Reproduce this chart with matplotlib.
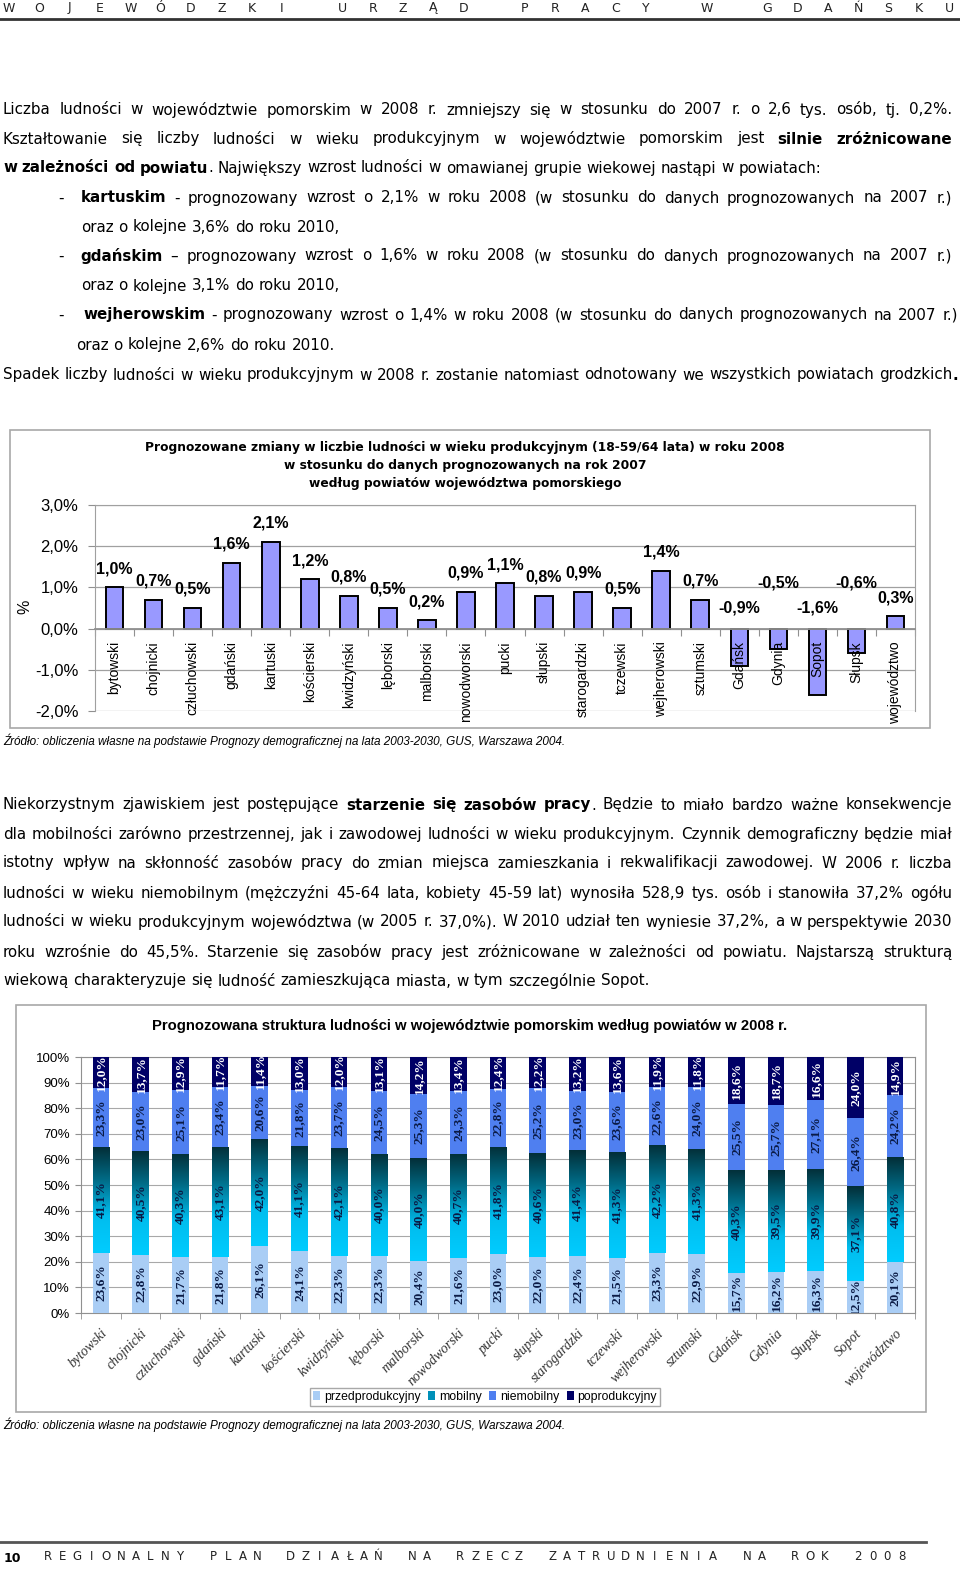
import numpy as np
import matplotlib
matplotlib.use('Agg')
import matplotlib.pyplot as plt
from matplotlib.patches import Rectangle, Patch
from matplotlib.colors import LinearSegmentedColormap
from matplotlib.ticker import FuncFormatter, MultipleLocator, FixedLocator

W, H = 960, 1569

# --- dane: wykres 1 (zmiany ludnosci w wieku produkcyjnym 2008/2007, %)
powiaty1 = ['bytowski', 'chojnicki', 'człuchowski', 'gdański', 'kartuski', 'kościerski',
            'kwidzyński', 'lęborski', 'malborski', 'nowodworski', 'pucki', 'słupski',
            'starogardzki', 'tczewski', 'wejherowski', 'sztumski', 'Gdańsk', 'Gdynia',
            'Sopot', 'Słupsk', 'województwo']
zmiana = [1.0, 0.7, 0.5, 1.6, 2.1, 1.2, 0.8, 0.5, 0.2, 0.9, 1.1, 0.8,
          0.9, 0.5, 1.4, 0.7, -0.9, -0.5, -1.6, -0.6, 0.3]

# --- dane: wykres 2 (struktura ludnosci 2008, %)
powiaty2 = ['bytowski', 'chojnicki', 'człuchowski', 'gdański', 'kartuski', 'kościerski',
            'kwidzyński', 'lęborski', 'malborski', 'nowodworski', 'pucki', 'słupski',
            'starogardzki', 'tczewski', 'wejherowski', 'sztumski', 'Gdańsk', 'Gdynia',
            'Słupsk', 'Sopot', 'województwo']
przedprod = [23.6, 22.8, 21.7, 21.8, 26.1, 24.1, 22.3, 22.3, 20.4, 21.6, 23.0, 22.0,
             22.4, 21.5, 23.3, 22.9, 15.7, 16.2, 16.3, 12.5, 20.1]
mobilny = [41.1, 40.5, 40.3, 43.1, 42.0, 41.1, 42.1, 40.0, 40.0, 40.7, 41.8, 40.6,
           41.4, 41.3, 42.2, 41.3, 40.3, 39.5, 39.9, 37.1, 40.8]
niemobilny = [23.3, 23.0, 25.1, 23.4, 20.6, 21.8, 23.7, 24.5, 25.3, 24.3, 22.8, 25.2,
              23.0, 23.6, 22.6, 24.0, 25.5, 25.7, 27.1, 26.4, 24.2]
poprod = [12.0, 13.7, 12.9, 11.7, 11.4, 13.0, 12.0, 13.1, 14.2, 13.4, 12.4, 12.2,
          13.2, 13.6, 11.9, 11.8, 18.6, 18.7, 16.6, 24.0, 14.9]
grupy = ['przedprodukcyjny', 'mobilny', 'niemobilny', 'poprodukcyjny']

zrodlo = 'Źródło: obliczenia własne na podstawie Prognozy demograficznej na lata 2003-2030, GUS, Warszawa 2004.'

BODY = 'DejaVu Sans'
NARROW = ['Liberation Sans Narrow', 'Liberation Sans', 'DejaVu Sans']
ARIAL = ['Liberation Sans', 'DejaVu Sans']
TIMES = ['Liberation Serif', 'DejaVu Serif']
FS = 10.9

fig = plt.figure(figsize=(W / 100, H / 100), dpi=100)
fig.patch.set_facecolor('white')
renderer = fig.canvas.get_renderer()


def fy(y):
    return 1 - y / H


def put_line(y, x0, x1, segs, size=FS, justify=True):
    # segs: lista (tekst, bold); slowa dzielone spacjami
    words = [[]]
    for txt, b in segs:
        parts = txt.split(' ')
        for k, p in enumerate(parts):
            if k > 0:
                words.append([])
            if p:
                words[-1].append((p, b))
    words = [w for w in words if w]
    while True:
        arts = []
        for w in words:
            grp = []
            for p, b in w:
                t = fig.text(0, fy(y), p, fontsize=size, family=BODY,
                             fontweight='bold' if b else 'normal', va='center', ha='left')
                grp.append((t, t.get_window_extent(renderer).width))
            arts.append(grp)
        widths = [sum(wd for _, wd in g) for g in arts]
        space = size * 0.32 * 100 / 72
        if justify and len(arts) > 1:
            gap = (x1 - x0 - sum(widths)) / (len(arts) - 1)
            if gap < space * 0.8 and size > 8:
                for g in arts:
                    for t, _ in g:
                        t.remove()
                size -= 0.2
                continue
        else:
            gap = space
        break
    x = x0
    for g in arts:
        for t, wd in g:
            t.set_x(x / W)
            x += wd
        x += gap


def spaced(y, x0, x1, text, size=9, weight='normal', space=1.6):
    units = [space if c == ' ' else 1.0 for c in text]
    step = (x1 - x0) / (sum(units) - 1)
    x = x0
    for c, u in zip(text, units):
        if c != ' ':
            fig.text(x / W, fy(y), c, fontsize=size, family=BODY, ha='center', va='center',
                     fontweight=weight, color='#222222')
        x += u * step


# --- naglowek i stopka
spaced(8, 9, 949, 'WOJEWÓDZKI URZĄD PRACY W GDAŃSKU', size=9, space=1.0)
fig.add_artist(plt.Line2D([0, 1], [fy(19), fy(19)], color='#333333', lw=2))
fig.add_artist(plt.Line2D([0, 926 / W], [fy(1542), fy(1542)], color='#555555', lw=2))
fig.text(4 / W, fy(1558), '10', fontsize=9, fontweight='bold', family=BODY, va='center')
spaced(1556, 48, 902, 'REGIONALNY PLAN DZIAŁAŃ NA RZECZ ZATRUDNIENIA NA ROK 2008', size=8.5, space=1.3)

# --- tekst 1
put_line(110, 3, 952, [('Liczba ludności w województwie pomorskim w 2008 r. zmniejszy się w stosunku do 2007 r. o 2,6 tys. osób, tj. 0,2%.', False)])
put_line(139, 3, 952, [('Kształtowanie się liczby ludności w wieku produkcyjnym w województwie pomorskim jest ', False),
                       ('silnie zróżnicowane', True)])
put_line(168, 3, 952, [('w zależności od powiatu', True),
                       ('. Największy wzrost ludności w omawianej grupie wiekowej nastąpi w powiatach:', False)], justify=False)
for y in (198, 256, 315):
    put_line(y, 58, 70, [('-', False)], justify=False)
put_line(198, 81, 952, [('kartuskim', True),
                        (' - prognozowany wzrost o 2,1% w roku 2008 (w stosunku do danych prognozowanych na 2007 r.)', False)])
put_line(227, 81, 952, [('oraz o kolejne 3,6% do roku 2010,', False)], justify=False)
put_line(256, 80, 952, [('gdańskim', True),
                        (' – prognozowany wzrost o 1,6% w roku 2008 (w stosunku do danych prognozowanych na 2007 r.)', False)])
put_line(286, 81, 952, [('oraz o kolejne 3,1% do roku 2010,', False)], justify=False)
put_line(315, 83, 958, [('wejherowskim', True),
                        (' - prognozowany wzrost o 1,4% w roku 2008 (w stosunku do danych prognozowanych na 2007 r.)', False)])
put_line(345, 76, 952, [('oraz o kolejne 2,6% do roku 2010.', False)], justify=False)
put_line(375, 3, 958, [('Spadek liczby ludności w wieku produkcyjnym w 2008 r. zostanie natomiast odnotowany we wszystkich powiatach grodzkich', False),
                       ('.', True)])

# --- tekst 2
put_line(805, 3, 952, [('Niekorzystnym zjawiskiem jest postępujące ', False), ('starzenie się zasobów pracy', True),
                       ('. Będzie to miało bardzo ważne konsekwencje', False)])
put_line(834, 3, 952, [('dla mobilności zarówno przestrzennej, jak i zawodowej ludności w wieku produkcyjnym. Czynnik demograficzny będzie miał', False)])
put_line(863, 3, 952, [('istotny wpływ na skłonność zasobów pracy do zmian miejsca zamieszkania i rekwalifikacji zawodowej. W 2006 r. liczba', False)])
put_line(893, 3, 952, [('ludności w wieku niemobilnym (mężczyźni 45-64 lata, kobiety 45-59 lat) wynosiła 528,9 tys. osób i stanowiła 37,2% ogółu', False)])
put_line(922, 3, 952, [('ludności w wieku produkcyjnym województwa (w 2005 r. 37,0%). W 2010 udział ten wyniesie 37,2%, a w perspektywie 2030', False)])
put_line(952, 3, 952, [('roku wzrośnie do 45,5%. Starzenie się zasobów pracy jest zróżnicowane w zależności od powiatu. Najstarszą strukturą', False)])
put_line(981, 3, 952, [('wiekową charakteryzuje się ludność zamieszkująca miasta, w tym szczególnie Sopot.', False)], justify=False)

# ================= wykres 1
fig.add_artist(Rectangle((10 / W, fy(728)), 920 / W, 298 / H, transform=fig.transFigure,
                         fill=False, edgecolor='#a8a8a8', lw=1.2))
for yy, t in [(447, 'Prognozowane zmiany w liczbie ludności w wieku produkcyjnym (18-59/64 lata) w roku 2008'),
              (465, 'w stosunku do danych prognozowanych na rok 2007'),
              (484, 'według powiatów województwa pomorskiego')]:
    fig.text(465 / W, fy(yy), t, ha='center', va='center', fontsize=8.8, fontweight='bold', family=BODY)

ax1 = fig.add_axes([95 / W, fy(711), 820 / W, 206 / H])
x1 = np.arange(len(powiaty1))
ax1.bar(x1, zmiana, width=0.45, color='#9999ff', edgecolor='black', lw=1.4, zorder=3)
ax1.set_xlim(-0.5, len(powiaty1) - 0.5)
ax1.set_ylim(-2, 3)
ax1.yaxis.set_major_locator(MultipleLocator(1))
ax1.yaxis.set_major_formatter(FuncFormatter(lambda v, p: f'{v:.1f}%'.replace('.', ',')))
ax1.grid(axis='y', color='#a0a0a0', lw=0.9, zorder=0)
for s in ['top', 'left', 'right']:
    ax1.spines[s].set_color('#a0a0a0')
ax1.spines['bottom'].set_position(('data', 0))
ax1.spines['bottom'].set_color('#909090')
ax1.spines['bottom'].set_linewidth(1.3)
ax1.spines['bottom'].set_zorder(4)
ax1.xaxis.set_major_locator(FixedLocator(np.arange(len(powiaty1) + 1) - 0.5))
ax1.tick_params(axis='x', length=5, color='#909090', labelbottom=False)
ax1.tick_params(axis='y', length=5, color='#909090', labelsize=12, pad=7)
for lab in ax1.get_yticklabels():
    lab.set_family(ARIAL)
for i, (v, name) in enumerate(zip(zmiana, powiaty1)):
    txt = f'{v:.1f}%'.replace('.', ',')
    if v >= 0:
        ax1.annotate(txt, (i, v), xytext=(0, 8), textcoords='offset points', ha='center',
                     va='bottom', fontsize=11.5, fontweight='bold', family=ARIAL, zorder=5)
    else:
        ax1.annotate(txt, (i, 0), xytext=(0, 15 if i % 2 == 0 else 33), textcoords='offset points',
                     ha='center', va='center', fontsize=11.5, fontweight='bold', family=ARIAL, zorder=5)
    ax1.annotate(name, (i, 0), xytext=(0, -9), textcoords='offset points', rotation=90,
                 ha='center', va='top', fontsize=10, family=ARIAL, zorder=5)
fig.text(25 / W, fy(607), '%', rotation=90, ha='center', va='center', fontsize=11.5, family=ARIAL)
fig.text(3 / W, fy(741), zrodlo, fontsize=8.5, style='italic', family=NARROW, va='center')

# ================= wykres 2
fig.add_artist(Rectangle((16 / W, fy(1412)), 910 / W, 407 / H, transform=fig.transFigure,
                         fill=False, edgecolor='#a8a8a8', lw=1.2))
fig.text(470 / W, fy(1026), 'Prognozowana struktura ludności w województwie pomorskim według powiatów w 2008 r.',
         ha='center', va='center', fontsize=10.7, fontweight='bold', family=ARIAL)

ax2 = fig.add_axes([81 / W, fy(1313), 834 / W, 256 / H])
x2 = np.arange(len(powiaty2))
bw = 0.42
kolory = ['#a9cdf5', '#00bbee', '#4f7ff0', '#000066']
serie = [przedprod, mobilny, niemobilny, poprod]
dol = np.zeros(len(powiaty2))
grad_cmap = LinearSegmentedColormap.from_list('mob', [(0, '#00ccff'), (0.35, '#00bdee'),
                                                      (0.7, '#006a85'), (1, '#032f38')])
grad = np.linspace(0, 1, 128).reshape(-1, 1)
for k, (vals, col) in enumerate(zip(serie, kolory)):
    vals = np.array(vals)
    bars = ax2.bar(x2, vals, width=bw, bottom=dol, color=col, lw=0, zorder=3)
    if k == 1:
        for b in bars:
            im = ax2.imshow(grad, extent=[b.get_x(), b.get_x() + b.get_width(), b.get_y(),
                                          b.get_y() + b.get_height()],
                            cmap=grad_cmap, origin='lower', aspect='auto', zorder=3.5)
            im.set_clip_path(b)
    for i, v in enumerate(vals):
        ax2.text(i, dol[i] + v / 2, f'{v:.1f}%'.replace('.', ','), rotation=90, ha='center',
                 va='center', fontsize=9.6, fontweight='bold', family=TIMES,
                 color='white' if k == 3 else '#0a1a45', zorder=6, clip_on=True)
    dol += vals
ax2.set_xlim(-0.5, len(powiaty2) - 0.5)
ax2.set_ylim(0, 100)
ax2.yaxis.set_major_locator(MultipleLocator(10))
ax2.yaxis.set_major_formatter(FuncFormatter(lambda v, p: f'{v:.0f}%'))
ax2.grid(axis='y', color='#a8a8a8', lw=0.8, zorder=0)
for s in ax2.spines.values():
    s.set_color('#909090')
ax2.set_xticks(x2)
ax2.set_xticklabels(powiaty2, rotation=45, ha='right', va='top', rotation_mode='anchor',
                    fontsize=10, style='italic', family=TIMES, color='#333333')
ax2.xaxis.set_minor_locator(FixedLocator(np.arange(len(powiaty2) + 1) - 0.5))
ax2.tick_params(axis='x', which='major', length=0, pad=10)
ax2.tick_params(axis='x', which='minor', length=4, color='#909090')
ax2.tick_params(axis='y', length=4, color='#909090', labelsize=9.5, pad=4)
for lab in ax2.get_yticklabels():
    lab.set_family(ARIAL)

uchwyty = [Patch(facecolor=kolory[0]), Patch(facecolor='#0090b8'),
           Patch(facecolor=kolory[2]), Patch(facecolor=kolory[3])]
leg = fig.legend(uchwyty, grupy, loc='center', bbox_to_anchor=(485 / W, fy(1397)), ncol=4,
                 prop={'family': NARROW, 'size': 8.8}, handlelength=0.6, handleheight=0.8,
                 handletextpad=0.3, columnspacing=0.6, borderpad=0.25, fancybox=False,
                 edgecolor='#a8a8a8', framealpha=1)
leg.get_frame().set_linewidth(1)
fig.text(3 / W, fy(1425), zrodlo, fontsize=8.5, style='italic', family=NARROW, va='center')

fig.savefig('out.png', dpi=100, facecolor='white')
